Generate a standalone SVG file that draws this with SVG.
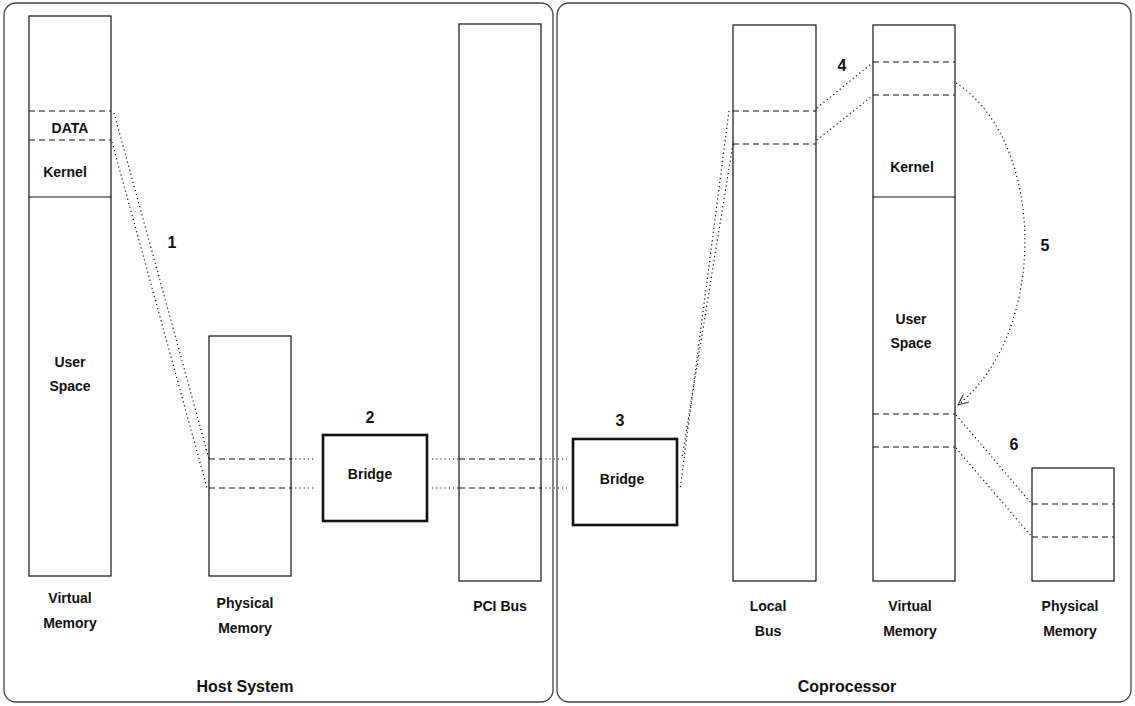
<svg xmlns="http://www.w3.org/2000/svg" width="1135" height="706" viewBox="0 0 1135 706">
  <defs>
    <style>
      .panel { fill: #ffffff; stroke: #444444; stroke-width: 1.3; }
      .box { fill: #ffffff; stroke: #111111; stroke-width: 1.2; }
      .bridge { fill: #ffffff; stroke: #111111; stroke-width: 2.6; }
      .sep { stroke: #111111; stroke-width: 1.2; fill: none; }
      .dash { stroke: #111111; stroke-width: 1.1; stroke-dasharray: 6,4; fill: none; }
      .dot { stroke: #111111; stroke-width: 1.2; stroke-dasharray: 1.2,3; fill: none; }
      text { font-family: "Liberation Sans", Arial, sans-serif; font-weight: bold; fill: #111111; text-anchor: middle; }
      .lbl { font-size: 14px; }
      .num { font-size: 16px; }
      .title { font-size: 16px; }
    </style>
    <marker id="openArrow" viewBox="0 0 12 10" refX="11" refY="5" markerWidth="12" markerHeight="10" markerUnits="userSpaceOnUse" orient="auto">
      <path d="M0,0 L11,5 L0,10" fill="none" stroke="#222222" stroke-width="1"/>
    </marker>
  </defs>

  <!-- panels -->
  <g id="host-panel">
    <rect class="panel" x="4" y="3" width="549" height="699" rx="12"/>
    <text class="title" x="245" y="692">Host System</text>
  </g>
  <g id="coproc-panel">
    <rect class="panel" x="557" y="3" width="574" height="699" rx="12"/>
    <text class="title" x="847" y="692">Coprocessor</text>
  </g>

  <!-- host virtual memory -->
  <g id="host-vm">
    <rect class="box" x="29" y="16" width="82" height="560"/>
    <line class="dash" x1="29" y1="111" x2="111" y2="111"/>
    <line class="dash" x1="29" y1="140" x2="111" y2="140"/>
    <line class="sep" x1="29" y1="197" x2="111" y2="197"/>
    <text class="lbl" x="70" y="133">DATA</text>
    <text class="lbl" x="65" y="177">Kernel</text>
    <text class="lbl" x="70" y="367">User</text>
    <text class="lbl" x="70" y="391">Space</text>
    <text class="lbl" x="70" y="603">Virtual</text>
    <text class="lbl" x="70" y="628">Memory</text>
  </g>

  <!-- host physical memory -->
  <g id="host-pm">
    <rect class="box" x="209" y="336" width="82" height="240"/>
    <line class="dash" x1="209" y1="459" x2="291" y2="459"/>
    <line class="dash" x1="209" y1="488" x2="291" y2="488"/>
    <text class="lbl" x="245" y="608">Physical</text>
    <text class="lbl" x="245" y="633">Memory</text>
  </g>

  <!-- host bridge -->
  <g id="bridge-2">
    <rect class="bridge" x="323" y="435" width="104" height="86"/>
    <text class="lbl" x="370" y="479">Bridge</text>
    <text class="num" x="370" y="423">2</text>
  </g>

  <!-- PCI bus -->
  <g id="pci-bus">
    <rect class="box" x="459" y="24" width="82" height="557"/>
    <line class="dash" x1="459" y1="459" x2="541" y2="459"/>
    <line class="dash" x1="459" y1="488" x2="541" y2="488"/>
    <text class="lbl" x="500" y="611">PCI Bus</text>
  </g>

  <!-- coprocessor bridge -->
  <g id="bridge-3">
    <rect class="bridge" x="573" y="439" width="104" height="86"/>
    <text class="lbl" x="622" y="484">Bridge</text>
    <text class="num" x="620" y="426">3</text>
  </g>

  <!-- local bus -->
  <g id="local-bus">
    <rect class="box" x="733" y="25" width="83" height="556"/>
    <line class="dash" x1="733" y1="111" x2="816" y2="111"/>
    <line class="dash" x1="733" y1="144" x2="816" y2="144"/>
    <text class="lbl" x="768" y="611">Local</text>
    <text class="lbl" x="768" y="636">Bus</text>
  </g>

  <!-- coprocessor virtual memory -->
  <g id="coproc-vm">
    <rect class="box" x="873" y="25" width="82" height="556"/>
    <line class="dash" x1="873" y1="62" x2="955" y2="62"/>
    <line class="dash" x1="873" y1="95" x2="955" y2="95"/>
    <line class="sep" x1="873" y1="197" x2="955" y2="197"/>
    <line class="dash" x1="873" y1="414" x2="955" y2="414"/>
    <line class="dash" x1="873" y1="447" x2="955" y2="447"/>
    <text class="lbl" x="912" y="172">Kernel</text>
    <text class="lbl" x="911" y="324">User</text>
    <text class="lbl" x="911" y="348">Space</text>
    <text class="lbl" x="910" y="611">Virtual</text>
    <text class="lbl" x="910" y="636">Memory</text>
  </g>

  <!-- coprocessor physical memory -->
  <g id="coproc-pm">
    <rect class="box" x="1032" y="468" width="82" height="113"/>
    <line class="dash" x1="1032" y1="504" x2="1114" y2="504"/>
    <line class="dash" x1="1032" y1="537" x2="1114" y2="537"/>
    <text class="lbl" x="1070" y="611">Physical</text>
    <text class="lbl" x="1070" y="636">Memory</text>
  </g>

  <!-- mapping connectors -->
  <g id="connectors">
    <!-- 1: host virtual to host physical -->
    <line class="dot" x1="114" y1="113" x2="209" y2="459"/>
    <line class="dot" x1="112" y1="142" x2="207" y2="488"/>
    <text class="num" x="172" y="248">1</text>
    <!-- 2: physical memory through bridge to PCI bus -->
    <line class="dot" x1="291" y1="459" x2="316" y2="459"/>
    <line class="dot" x1="291" y1="488" x2="316" y2="488"/>
    <line class="dot" x1="432" y1="459" x2="459" y2="459"/>
    <line class="dot" x1="432" y1="488" x2="459" y2="488"/>
    <!-- 3: PCI bus through bridge to local bus -->
    <line class="dot" x1="541" y1="459" x2="567" y2="459"/>
    <line class="dot" x1="541" y1="488" x2="567" y2="488"/>
    <line class="dot" x1="729" y1="111" x2="680" y2="490"/>
    <line class="dot" x1="733" y1="144" x2="682" y2="458"/>
    <!-- 4: local bus to coprocessor virtual memory -->
    <line class="dot" x1="817" y1="108" x2="871" y2="64"/>
    <line class="dot" x1="817" y1="140" x2="871" y2="97"/>
    <text class="num" x="842" y="71">4</text>
    <!-- 5: kernel window remapped into user space -->
    <path class="dot" d="M956,83 C1045,140 1050,330 958,405" marker-end="url(#openArrow)"/>
    <text class="num" x="1045" y="251">5</text>
    <!-- 6: user space to coprocessor physical memory -->
    <line class="dot" x1="956" y1="415" x2="1031" y2="503"/>
    <line class="dot" x1="956" y1="448" x2="1031" y2="536"/>
    <text class="num" x="1014" y="450">6</text>
  </g>
</svg>
